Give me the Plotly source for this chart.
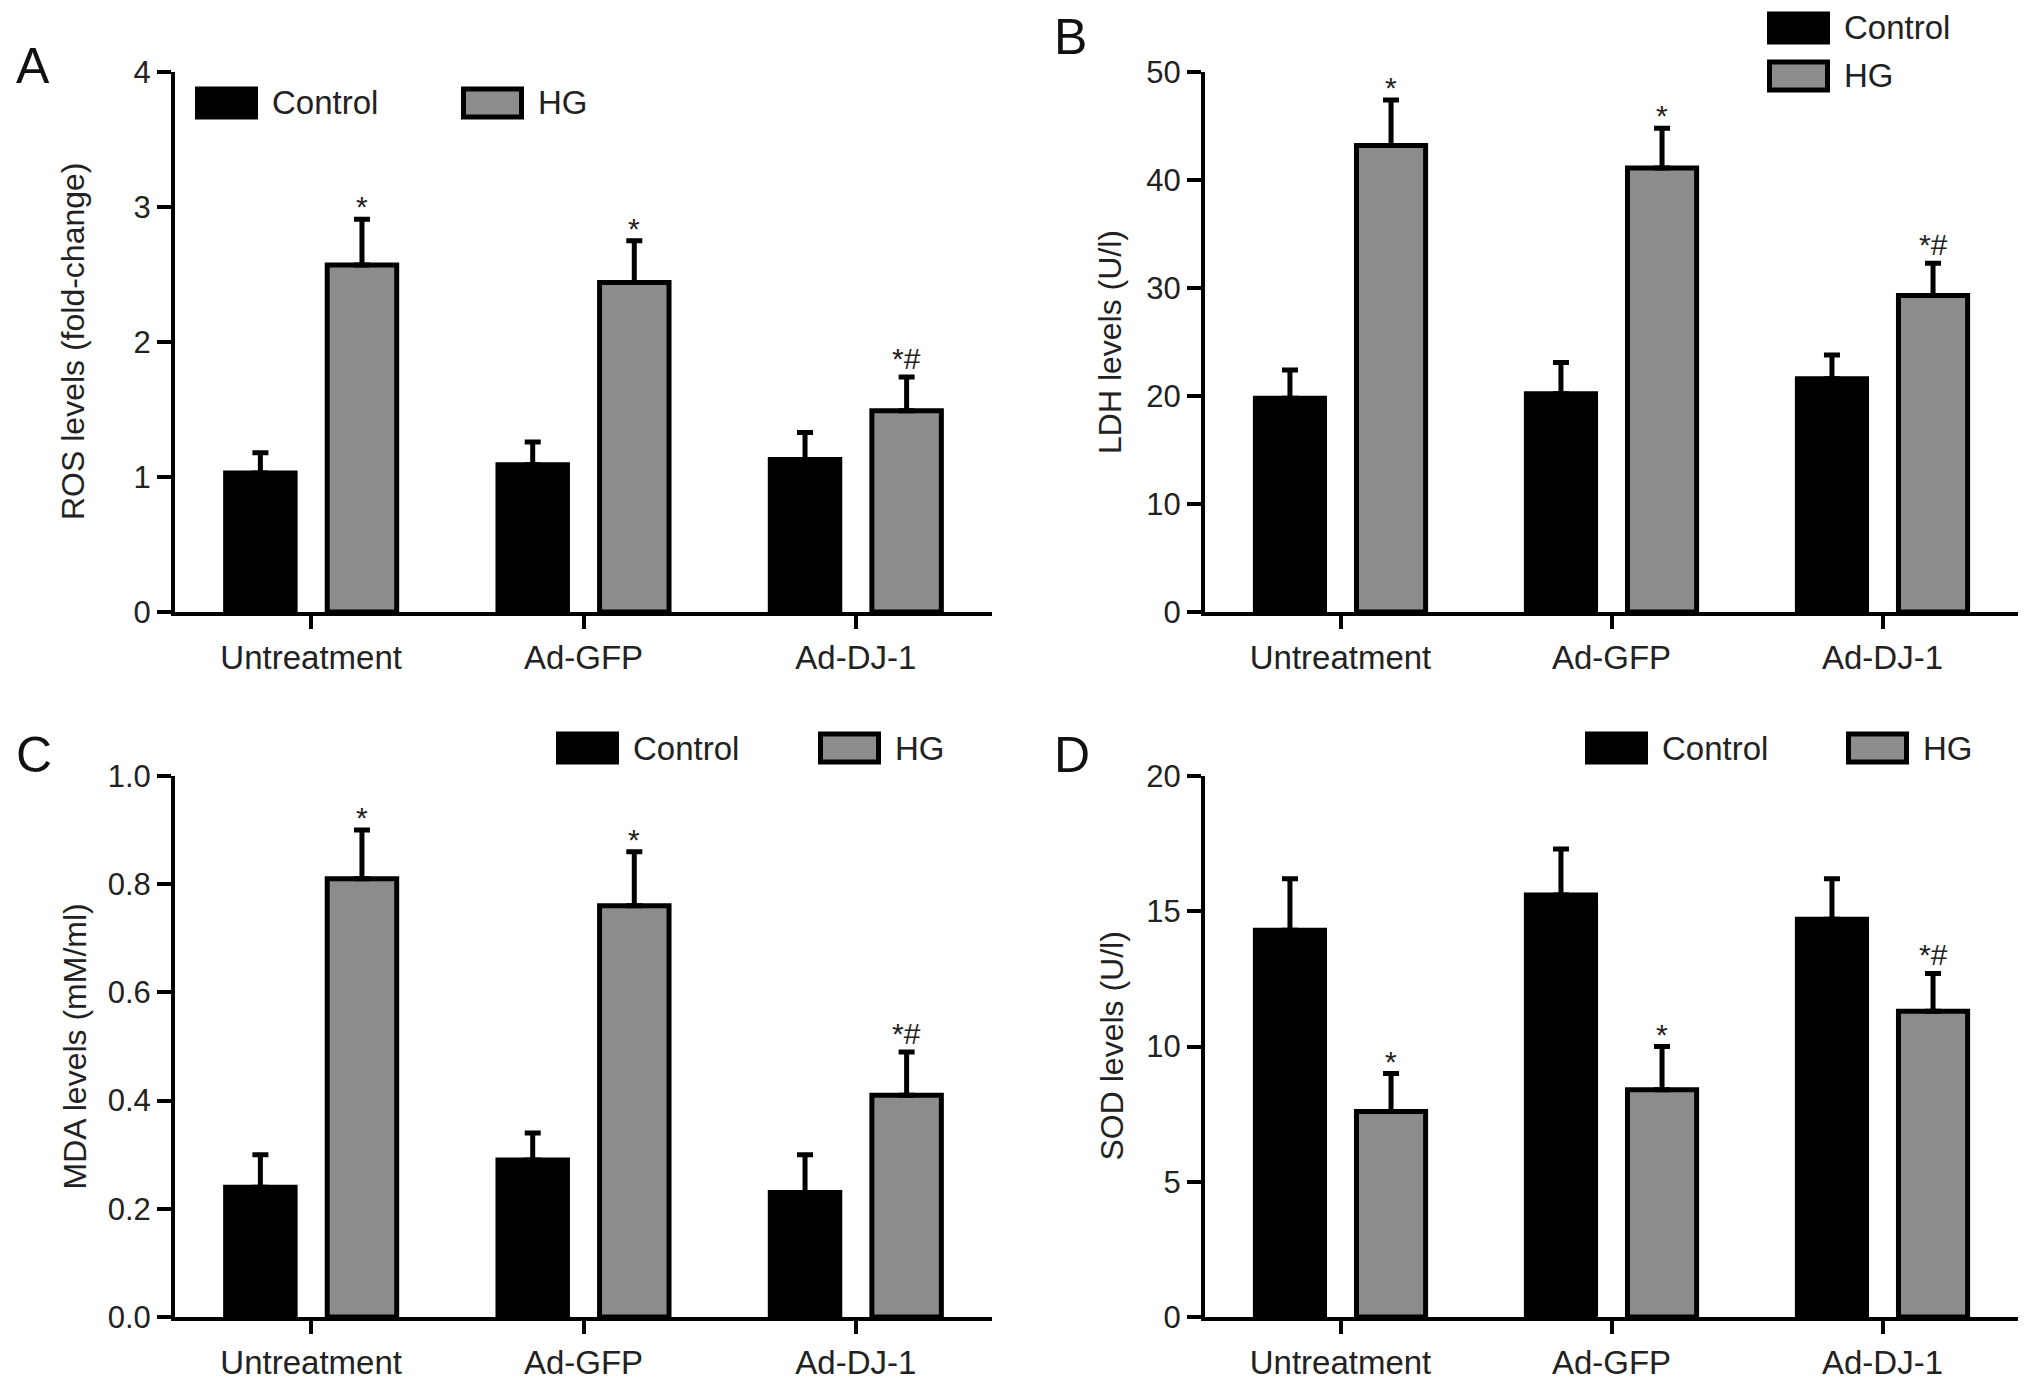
import plotly.graph_objects as go

# the page body keeps an 8px margin, so the figure is 8px smaller than the window
PAGE_W, PAGE_H = 2032, 1388
OFFSET = 8
W, H = PAGE_W - OFFSET, PAGE_H - OFFSET
FONT = 'Liberation Sans, Arial, Helvetica, sans-serif'
GRAY = '#8c8c8c'

groups = ['Untreatment', 'Ad-GFP', 'Ad-DJ-1']
hg_marks = ['*', '*', '*#']

# A: ROS levels (fold-change)
ros_ctrl = [1.03, 1.09, 1.13]
ros_ctrl_err = [0.15, 0.17, 0.20]
ros_hg = [2.57, 2.44, 1.49]
ros_hg_err = [0.34, 0.31, 0.25]

# B: LDH levels (U/l)
ldh_ctrl = [19.8, 20.2, 21.6]
ldh_ctrl_err = [2.6, 2.9, 2.2]
ldh_hg = [43.2, 41.1, 29.3]
ldh_hg_err = [4.2, 3.7, 3.0]

# C: MDA levels (mM/ml)
mda_ctrl = [0.24, 0.29, 0.23]
mda_ctrl_err = [0.06, 0.05, 0.07]
mda_hg = [0.81, 0.76, 0.41]
mda_hg_err = [0.09, 0.10, 0.08]

# D: SOD levels (U/l)
sod_ctrl = [14.3, 15.6, 14.7]
sod_ctrl_err = [1.9, 1.7, 1.5]
sod_hg = [7.6, 8.4, 11.3]
sod_hg_err = [1.4, 1.6, 1.4]

# layout of the four panels, in pixels of the 2032x1388 page
panels = [
    dict(letter='A', ctrl=ros_ctrl, ctrl_err=ros_ctrl_err, hg=ros_hg, hg_err=ros_hg_err,
         xpx=(175, 992), ypx=(72, 612), yrange=[0, 4], dtick=1, fmt='',
         title='ROS levels (fold-change)', title_x=73, letter_xy=(14, 66),
         legend=[(195, 103), (461, 103)]),
    dict(letter='B', ctrl=ldh_ctrl, ctrl_err=ldh_ctrl_err, hg=ldh_hg, hg_err=ldh_hg_err,
         xpx=(1205, 2018), ypx=(72, 612), yrange=[0, 50], dtick=10, fmt='',
         title='LDH levels (U/l)', title_x=1110, letter_xy=(1052, 37),
         legend=[(1767, 28), (1767, 76)]),
    dict(letter='C', ctrl=mda_ctrl, ctrl_err=mda_ctrl_err, hg=mda_hg, hg_err=mda_hg_err,
         xpx=(175, 992), ypx=(776, 1317), yrange=[0, 1], dtick=0.2, fmt='.1f',
         title='MDA levels (mM/ml)', title_x=74, letter_xy=(14, 755),
         legend=[(556, 748), (818, 748)]),
    dict(letter='D', ctrl=sod_ctrl, ctrl_err=sod_ctrl_err, hg=sod_hg, hg_err=sod_hg_err,
         xpx=(1205, 2018), ypx=(776, 1317), yrange=[0, 20], dtick=5, fmt='',
         title='SOD levels (U/l)', title_x=1111, letter_xy=(1052, 755),
         legend=[(1585, 748), (1846, 748)]),
]

BARGAP = 0.254
BARGROUPGAP = 0.316
hg_offset = (1 - BARGAP) / 4  # centre of the HG bar relative to the category


def px_x(v):
    return (v - OFFSET) / W


def px_y(v):
    return 1 - (v - OFFSET) / H


fig = go.Figure()
annotations = []
shapes = []

for i, p in enumerate(panels):
    n = '' if i == 0 else str(i + 1)
    xa, ya = 'x' + n, 'y' + n

    fig.add_trace(go.Bar(
        x=groups, y=p['ctrl'], name='Control', xaxis=xa, yaxis=ya,
        marker=dict(color='black', line=dict(color='black', width=5)),
        error_y=dict(type='data', array=p['ctrl_err'], arrayminus=[0, 0, 0],
                     symmetric=False, color='black', thickness=5, width=8),
        showlegend=False,
    ))
    fig.add_trace(go.Bar(
        x=groups, y=p['hg'], name='HG', xaxis=xa, yaxis=ya,
        marker=dict(color=GRAY, line=dict(color='black', width=5)),
        error_y=dict(type='data', array=p['hg_err'], arrayminus=[0, 0, 0],
                     symmetric=False, color='black', thickness=5, width=8),
        showlegend=False,
    ))

    fig.update_layout(**{
        'xaxis' + n: dict(
            domain=[px_x(p['xpx'][0]), px_x(p['xpx'][1])], anchor=ya,
            showline=True, linecolor='black', linewidth=4,
            ticks='outside', ticklen=13, tickwidth=4, tickcolor='black',
            tickfont=dict(size=33, color='#222', family=FONT),
            showgrid=False, zeroline=False, automargin=False,
        ),
        'yaxis' + n: dict(
            domain=[px_y(p['ypx'][1]), px_y(p['ypx'][0])], anchor=xa,
            range=p['yrange'], dtick=p['dtick'], tickformat=p['fmt'],
            showline=True, linecolor='black', linewidth=4,
            ticks='outside', ticklen=14, tickwidth=4, tickcolor='black',
            tickfont=dict(size=31, color='#222', family=FONT),
            showgrid=False, zeroline=False, automargin=False,
        ),
    })

    # significance marks above the HG error bars
    for j, m in enumerate(hg_marks):
        annotations.append(dict(
            x=j + hg_offset, y=p['hg'][j] + p['hg_err'][j], xref=xa, yref=ya,
            text=m, showarrow=False, xanchor='center', yanchor='bottom',
            yshift=-6 if m == '*' else 0,
            font=dict(size=30, color='#222', family=FONT),
        ))

    # y axis title
    annotations.append(dict(
        x=px_x(p['title_x']), y=px_y((p['ypx'][0] + p['ypx'][1]) / 2),
        xref='paper', yref='paper', text=p['title'], textangle=-90,
        showarrow=False, xanchor='center', yanchor='middle',
        font=dict(size=32, color='#222', family=FONT),
    ))

    # panel letter
    annotations.append(dict(
        x=px_x(p['letter_xy'][0]), y=px_y(p['letter_xy'][1]),
        xref='paper', yref='paper', text=p['letter'], showarrow=False,
        xanchor='left', yanchor='middle',
        font=dict(size=50, color='#111', family=FONT),
    ))

    # legend boxes
    for (bx, by), label, fill in zip(p['legend'], ['Control', 'HG'], ['black', GRAY]):
        shapes.append(dict(
            type='rect', xref='paper', yref='paper',
            x0=px_x(bx + 2.5), x1=px_x(bx + 60.5),
            y0=px_y(by + 14), y1=px_y(by - 14),
            fillcolor=fill, line=dict(color='black', width=5),
        ))
        annotations.append(dict(
            x=px_x(bx + 75), y=px_y(by), xref='paper', yref='paper',
            text=label, showarrow=False, xanchor='left', yanchor='middle',
            font=dict(size=33, color='#222', family=FONT),
        ))

fig.update_layout(
    width=W, height=H,
    margin=dict(l=0, r=0, t=0, b=0, autoexpand=False),
    paper_bgcolor='white', plot_bgcolor='white',
    barmode='group', bargap=BARGAP, bargroupgap=BARGROUPGAP,
    annotations=annotations, shapes=shapes,
    font=dict(family=FONT),
)

fig.write_html('out.html')
